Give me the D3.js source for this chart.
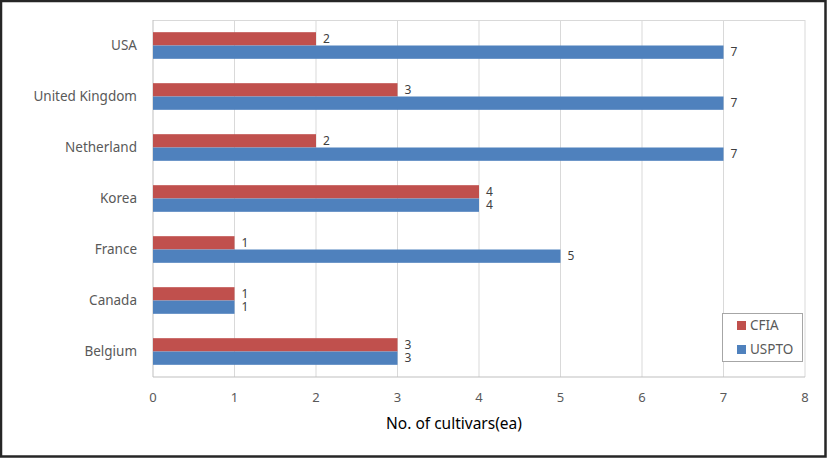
<!DOCTYPE html>
<html><head><meta charset="utf-8">
<script src="https://cdn.jsdelivr.net/npm/d3@7"></script>
<style>body{margin:0;background:#fff}svg{display:block}</style>
</head><body>
<svg id="c" width="827" height="458"></svg>
<script>
const categories = ["USA","United Kingdom","Netherland","Korea","France","Canada","Belgium"];
const cfia = [2,3,2,4,1,1,3];
const uspto = [7,7,7,4,5,1,3];
const seriesNames = ["CFIA","USPTO"];
const seriesColors = ["#C0504D","#4F81BD"];
const xTicks = [0,1,2,3,4,5,6,7,8];
const xTitle = "No. of cultivars(ea)";

const svg = d3.select("#c");
const font = "'Noto Sans', 'Open Sans', sans-serif";
const L=153, R=805, T=20, B=377;
svg.append("rect").attr("x",1).attr("y",1).attr("width",824.5).attr("height",455.5)
  .attr("fill","#fff").attr("stroke","#262626").attr("stroke-width",2.5);

const x = d3.scaleLinear().domain([0,8]).range([L,R]);
const y = d3.scaleBand().domain(categories).range([T,B]);
const inner = d3.scaleBand().domain(seriesNames).range([0,y.bandwidth()]).paddingInner(0).paddingOuter(0.915);

svg.append("g").selectAll("line").data(xTicks.filter(d=>d>0)).join("line")
  .attr("x1",d=>x(d)).attr("x2",d=>x(d)).attr("y1",T).attr("y2",B)
  .attr("stroke","#d9d9d9").attr("stroke-width",1);
svg.append("line").attr("x1",L).attr("x2",R).attr("y1",T+0.5).attr("y2",T+0.5).attr("stroke","#d9d9d9");
svg.append("line").attr("x1",L).attr("x2",L).attr("y1",T).attr("y2",B).attr("stroke","#bfbfbf");
svg.append("line").attr("x1",L).attr("x2",R).attr("y1",B).attr("y2",B).attr("stroke","#bfbfbf");

const data = [cfia, uspto];
data.forEach((vals,si)=>{
  const g = svg.append("g");
  g.selectAll("rect").data(categories).join("rect")
    .attr("x",x(0)).attr("y",(d)=>y(d)+inner(seriesNames[si]))
    .attr("width",(d,i)=>x(vals[i])-x(0)).attr("height",inner.bandwidth())
    .attr("fill",seriesColors[si]);
  g.selectAll("text").data(categories).join("text")
    .attr("x",(d,i)=>x(vals[i])+7).attr("y",(d)=>y(d)+inner(seriesNames[si])+inner.bandwidth()/2)
    .attr("dy","0.35em").attr("font-family",font).attr("font-size",12).attr("fill","#404040")
    .text((d,i)=>vals[i]);
});

svg.append("g").selectAll("text").data(categories).join("text")
  .attr("x",137).attr("y",d=>y(d)+y.bandwidth()/2).attr("dy","0.35em").attr("text-anchor","end")
  .attr("font-family",font).attr("font-size",13.5).attr("fill","#595959").text(d=>d);
svg.append("g").selectAll("text").data(xTicks).join("text")
  .attr("x",d=>x(d)).attr("y",397).attr("dy","0.35em").attr("text-anchor","middle")
  .attr("font-family",font).attr("font-size",13).attr("fill","#595959").text(d=>d);
svg.append("text").attr("x",454).attr("y",424).attr("dy","0.35em").attr("text-anchor","middle")
  .attr("font-family",font).attr("font-size",15.5).attr("fill","#000").text(xTitle);

const lg = svg.append("g");
lg.append("rect").attr("x",722.5).attr("y",313.5).attr("width",80).attr("height",48)
  .attr("fill","#fff").attr("stroke","#a6a6a6");
seriesNames.forEach((n,i)=>{
  lg.append("rect").attr("x",737).attr("y",321+i*24).attr("width",9).attr("height",9).attr("fill",seriesColors[i]);
  lg.append("text").attr("x",750).attr("y",325.5+i*24).attr("dy","0.35em")
    .attr("font-family",font).attr("font-size",13.5).attr("fill","#595959").text(n);
});
</script>
</body></html>
